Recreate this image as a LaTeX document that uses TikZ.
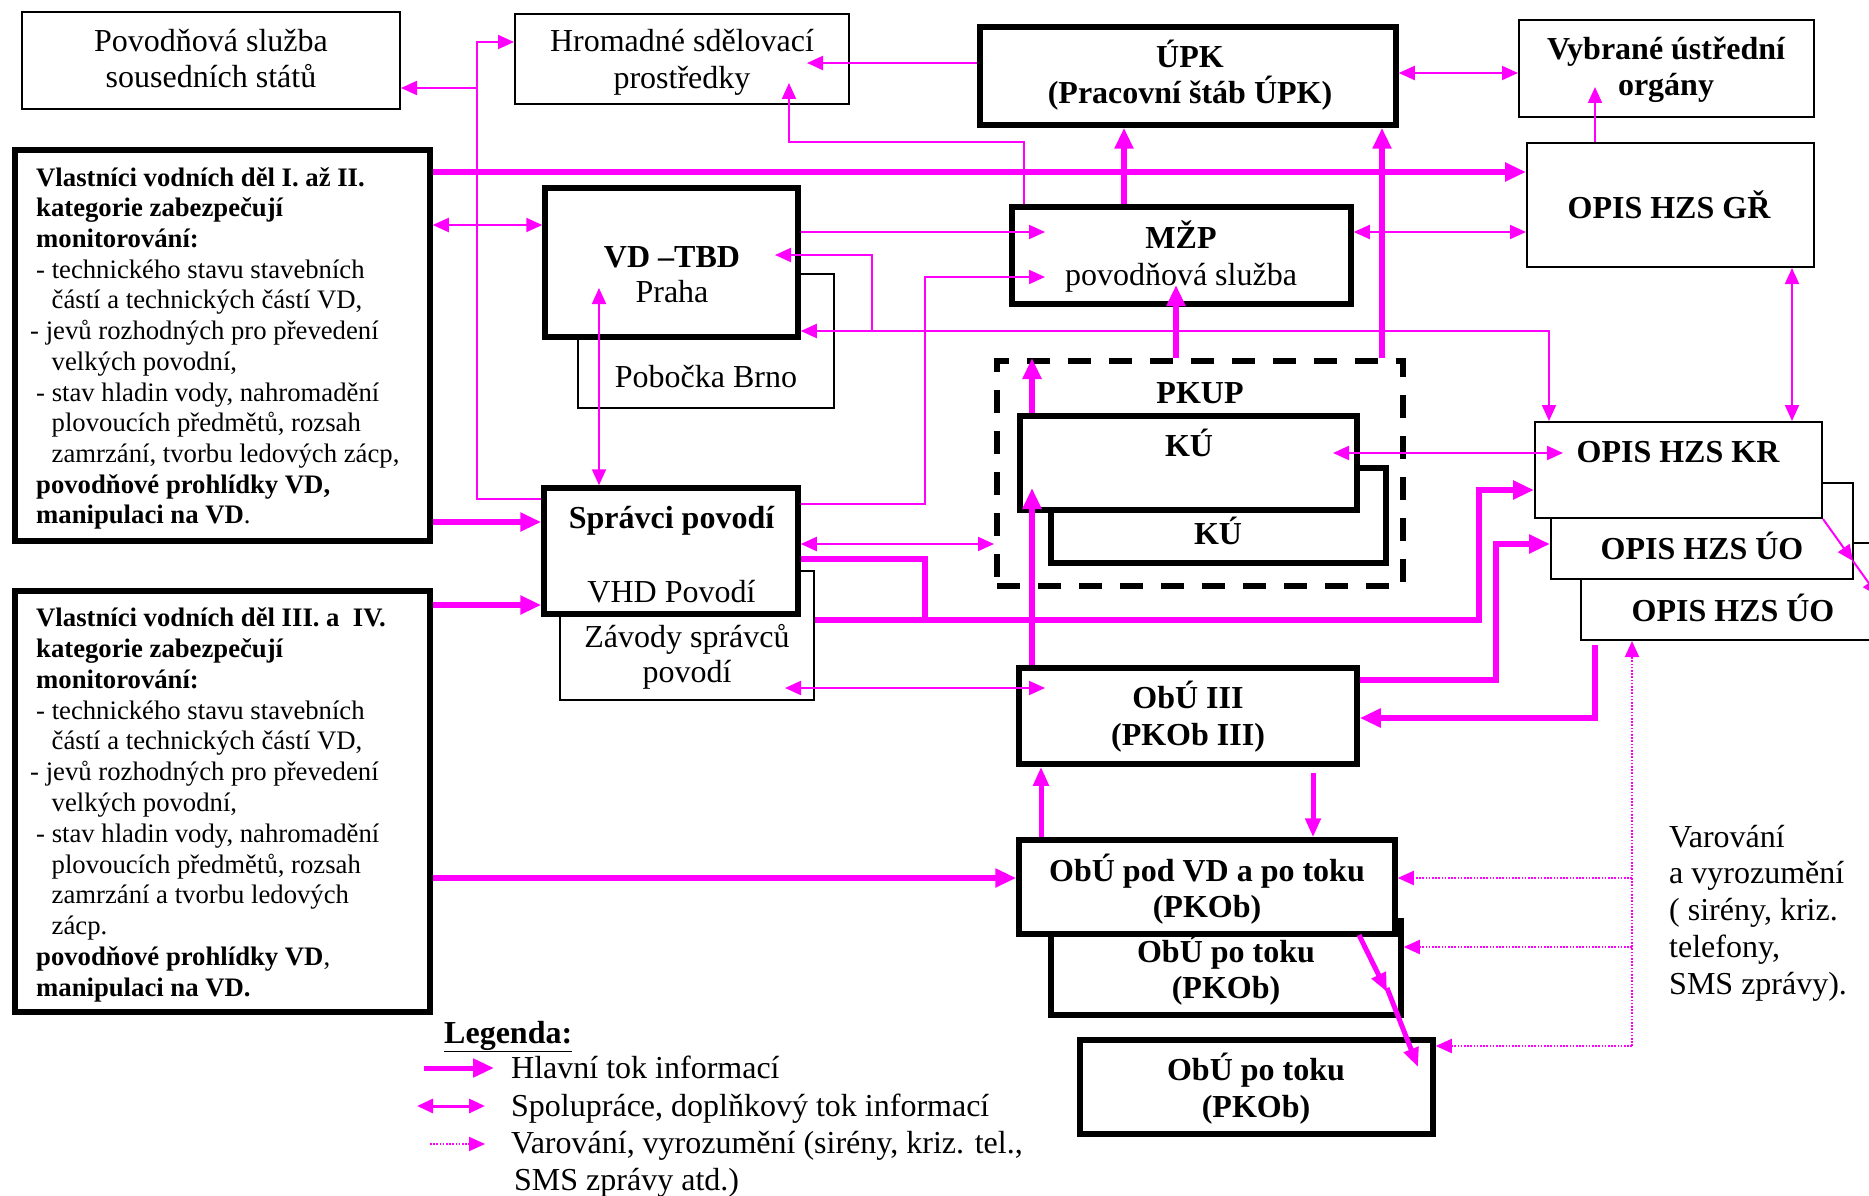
\documentclass[tikz,border=0pt]{standalone}
\usepackage{fontspec}
\setmainfont{Liberation Serif}
\usetikzlibrary{arrows.meta,calc}
\definecolor{mag}{RGB}{255,0,255}
\begin{document}
\begin{tikzpicture}[x=1pt,y=-1pt,
  tbox/.style={draw=black, line width=2pt, fill=white, inner sep=0pt},
  kbox/.style={draw=black, line width=5.5pt, fill=white, inner sep=0pt},
  dbox/.style={draw=black, line width=6pt, dash pattern=on 23pt off 18pt, inner sep=0pt},
  tx/.style={inner sep=0pt, anchor=base, font=\fontsize{32}{37}\selectfont},
  bx/.style={inner sep=0pt, anchor=base, font=\fontsize{32}{37}\selectfont\bfseries},
  lt/.style={inner sep=0pt, anchor=base west, font=\fontsize{32}{37}\selectfont},
  vlt/.style={inner sep=0pt, anchor=north west, align=left},
  thinln/.style={draw=mag, line width=2pt},
  thickln/.style={draw=mag, line width=6pt},
  medln/.style={draw=mag, line width=5pt},
  dotln/.style={draw=mag, line width=2pt, dash pattern=on 1.6pt off 1.6pt},
  arT/.style={-{Triangle[length=16pt,width=14pt]}},
  dbT/.style={{Triangle[length=16pt,width=14pt]}-{Triangle[length=16pt,width=14pt]}},
  arK/.style={-{Triangle[length=21pt,width=18pt]}},
  arM/.style={-{Triangle[length=19pt,width=15pt]}}
]
\useasboundingbox (0,0) rectangle (1869,1196);
\fill[white] (0,0) rectangle (1869,1196);
\clip (0,0) rectangle (1869,1196);

% ---------- boxes ----------
\node[tbox, minimum width=378pt, minimum height=97pt] (pov) at (211,60.5) {};
\node[tx] (t-pov1) at (211,52) {Povodňová služba};
\node[tx] (t-pov2) at (211,88) {sousedních států};

\node[tbox, minimum width=334pt, minimum height=90pt] (hrom) at (682,59) {};
\node[tx] (t-hrom1) at (682,52) {Hromadné sdělovací};
\node[tx] (t-hrom2) at (682,89) {prostředky};

\node[kbox, minimum width=416pt, minimum height=98pt] (upk) at (1188,76) {};
\node[bx] (t-upk1) at (1190,68) {ÚPK};
\node[bx] (t-upk2) at (1190,104) {(Pracovní štáb ÚPK)};

\node[tbox, minimum width=295pt, minimum height=97pt] (vyb) at (1666.5,68.5) {};
\node[bx] (t-vyb1) at (1666,60) {Vybrané ústřední};
\node[bx] (t-vyb2) at (1666,96) {orgány};

\node[tbox, minimum width=287pt, minimum height=124pt] (gr) at (1670.5,205) {};
\node[bx] (t-gr) at (1669,218) {OPIS HZS GŘ};

\node[kbox, minimum width=415pt, minimum height=391pt] (vlI) at (222.5,345.5) {};
\node[vlt, font=\fontsize{26.7}{30.7}\selectfont] (t-vlI) at (36,164.5) {\strut\textbf{Vlastníci vodních děl I. až II.}\\
\textbf{kategorie zabezpečují}\\
\textbf{monitorování:}\\
- technického stavu stavebních\\
\hspace*{15.5pt}částí a technických částí VD,\\
\hspace*{-6pt}- jevů rozhodných pro převedení\\
\hspace*{15.5pt}velkých povodní,\\
- stav hladin vody, nahromadění\\
\hspace*{15.5pt}plovoucích předmětů, rozsah\\
\hspace*{15.5pt}zamrzání, tvorbu ledových zácp,\\
\textbf{povodňové prohlídky VD,}\\
\textbf{manipulaci na VD}.};

\node[tbox, minimum width=256pt, minimum height=134pt] (brno) at (706,341) {};
\node[tx] (t-brno) at (706,387) {Pobočka Brno};
\node[kbox, minimum width=253pt, minimum height=149pt] (vdtbd) at (671.5,262.5) {};
\node[bx] (t-vd1) at (672,267) {VD –TBD};
\node[tx] (t-vd2) at (672,302) {Praha};

\node[kbox, minimum width=339pt, minimum height=97pt] (mzp) at (1181.5,255.5) {};
\node[bx] (t-mzp1) at (1181,248) {MŽP};
\node[tx] (t-mzp2) at (1181,285) {povodňová služba};

\node[dbox, minimum width=406pt, minimum height=225pt] (pkup) at (1200,473.5) {};
\node[bx] (t-pkup) at (1200,403) {PKUP};
\node[kbox, minimum width=335pt, minimum height=95pt] (ku2) at (1218.5,515.5) {};
\node[bx] (t-ku2) at (1218,544) {KÚ};
\node[kbox, minimum width=337pt, minimum height=94pt] (ku1) at (1188.5,463) {};
\node[bx] (t-ku1) at (1189,456) {KÚ};

\node[tbox, minimum width=308pt, minimum height=97pt] (uo2) at (1735,591.5) {};
\node[bx] (t-uo2) at (1733,621) {OPIS HZS ÚO};
\node[tbox, minimum width=302pt, minimum height=96pt] (uo1) at (1702,531) {};
\node[bx] (t-uo1) at (1702,559) {OPIS HZS ÚO};
\node[tbox, minimum width=287pt, minimum height=96pt] (kr) at (1678.5,470) {};
\node[bx] (t-kr) at (1678,462) {OPIS HZS KR};

\node[tbox, minimum width=254pt, minimum height=129pt] (zav) at (687,635.5) {};
\node[tx] (t-zav1) at (687,647) {Závody správců};
\node[tx] (t-zav2) at (687,682) {povodí};
\node[kbox, minimum width=254pt, minimum height=126pt] (spr) at (671,551) {};
\node[bx] (t-spr1) at (671.5,528) {Správci povodí};
\node[tx] (t-spr2) at (671.5,602) {VHD Povodí};

\node[kbox, minimum width=415pt, minimum height=421pt] (vlIII) at (222.5,801.5) {};
\node[vlt, font=\fontsize{26.7}{30.8}\selectfont] (t-vlIII) at (36,604.9) {\strut\textbf{Vlastníci vodních děl III. a \ IV.}\\
\textbf{kategorie zabezpečují}\\
\textbf{monitorování:}\\
- technického stavu stavebních\\
\hspace*{15.5pt}částí a technických částí VD,\\
\hspace*{-6pt}- jevů rozhodných pro převedení\\
\hspace*{15.5pt}velkých povodní,\\
- stav hladin vody, nahromadění\\
\hspace*{15.5pt}plovoucích předmětů, rozsah\\
\hspace*{15.5pt}zamrzání a tvorbu ledových\\
\hspace*{15.5pt}zácp.\\
\textbf{povodňové prohlídky VD},\\
\textbf{manipulaci na VD.}};

\node[kbox, minimum width=338pt, minimum height=96pt] (obu3) at (1188,716) {};
\node[bx] (t-ob31) at (1188,708) {ObÚ III};
\node[bx] (t-ob32) at (1188,745) {(PKOb III)};

\node[kbox, minimum width=350pt, minimum height=94pt] (obupo1) at (1226,968) {};
\node[bx] (t-obt1) at (1226,962) {ObÚ po toku};
\node[bx] (t-obt2) at (1226,998) {(PKOb)};
\node[kbox, minimum width=376pt, minimum height=94pt] (obupod) at (1207,887) {};
\node[bx] (t-obp1) at (1207,881) {ObÚ pod VD a po toku};
\node[bx] (t-obp2) at (1207,917) {(PKOb)};

\node[kbox, minimum width=353pt, minimum height=94pt] (obupo2) at (1256.5,1087) {};
\node[bx] (t-obu1) at (1256,1080) {ObÚ po toku};
\node[bx] (t-obu2) at (1256,1117) {(PKOb)};

% warning text
\node[lt] (w1) at (1669,847) {Varování};
\node[lt] (w2) at (1669,883) {a vyrozumění};
\node[lt] (w3) at (1669,920) {( sirény, kriz.};
\node[lt] (w4) at (1669,957) {telefony,};
\node[lt] (w5) at (1669,994) {SMS zprávy).};

% ---------- connectors ----------
\draw[thinln, arT] (spr.west |- 0,499) -- (477,499) -- (477,42) -- (hrom.west |- 0,42);
\draw[thinln, arT] (477,88) -- (pov.east |- 0,88);
\draw[thinln, arT] (upk.west |- 0,63) -- ($(hrom.east |- 0,63)+(-43,0)$);
\draw[thinln, arT] (mzp.north -| 1024,0) -- (1024,142) -- (789,142) -- ($(hrom.south -| 789,0)+(0,-22)$);
\draw[thickln, arK] (vlI.east |- 0,172) -- (gr.west |- 0,172);
\draw[thinln, dbT] (upk.east |- 0,73) -- (vyb.west |- 0,73);
\draw[thinln, arT] (gr.north -| 1595,0) -- (1595,87);
\draw[thinln, dbT] (vlI.east |- 0,225) -- (vdtbd.west |- 0,225);
\draw[thinln, arT] (vdtbd.east |- 0,232) -- (1045,232);
\draw[thinln, dbT] (mzp.east |- 0,232) -- (gr.west |- 0,232);
\draw[thickln, arK] (mzp.north -| 1124,0) -- (upk.south -| 1124,0);
\draw[thickln, arK] (pkup.north -| 1382,0) -- (upk.south -| 1382,0);
\draw[thickln, arK] (pkup.north -| 1176,0) -- (1176,285);
\draw[thinln, dbT] (gr.south -| 1792,0) -- (kr.north -| 1792,0);
\draw[thinln, dbT] (vdtbd.east |- 0,331) -- (1549,331) -- (kr.north -| 1549,0);
\draw[thinln, arT] (872,331) -- (872,255) -- (775,255);
\draw[thinln, arT] (spr.east |- 0,504) -- (925,504) -- (925,277) -- (1045,277);
\draw[thinln, dbT] (599,288) -- (spr.north -| 599,0);
\draw[thickln, arK] (vlI.east |- 0,522) -- (spr.west |- 0,522);
\draw[thickln, arK] (vlIII.east |- 0,605) -- (spr.west |- 0,605);
\draw[thinln, dbT] (spr.east |- 0,544) -- (pkup.west |- 0,544);
\draw[thickln] (spr.east |- 0,559) -- (925,559) -- (925,620);
\draw[thickln, arK] (zav.east |- 0,620) -- (1479,620) -- (1479,490) -- (kr.west |- 0,490);
\draw[thinln, dbT] (785,688) -- (1045,688);
\draw[thickln, arK] (ku1.north -| 1032,0) -- (pkup.north -| 1032,0);
\draw[thickln, arK] (obu3.north -| 1032,0) -- (1032,488);
\draw[thinln, dbT] (1333,453) -- (1563,453);
\draw[thickln, arK] (obu3.east |- 0,680) -- (1496,680) -- (1496,544) -- (uo1.west |- 0,544);
\draw[thickln, arK] (1595,645) -- (1595,718) -- (obu3.east |- 0,718);
\draw[dotln, arT] (1632,1046) -- (uo2.south -| 1632,0);
\draw[dotln, arT] (1632,878) -- (obupod.east |- 0,878);
\draw[dotln, arT] (1632,947) -- (obupo1.east |- 0,947);
\draw[dotln, arT] (1632,1046) -- (obupo2.east |- 0,1046);
\coordinate (kd) at (1853,561);
\coordinate (kd2) at (1878,596);
\draw[thinln, arT] (kr.south east) -- (kd);
\draw[thinln, arT] (kd) -- (kd2);
\draw[thickln, arK] (vlIII.east |- 0,878) -- (obupod.west |- 0,878);
\draw[medln, arM] (obupod.north -| 1041,0) -- (obu3.south -| 1041,0);
\draw[medln, arM] (1313,773) -- (obupod.north -| 1313,0);
\coordinate (dg) at (1387,992);
\draw[medln, arM] (1359,935) -- (dg);
\draw[medln, arM] (1387,988) -- (1418,1067);

% ---------- legend ----------
\node[inner sep=0pt, anchor=base west, font=\fontsize{32}{37}\selectfont\bfseries] (leg) at (444,1043) {\underline{Legenda:}};
\coordinate (la1) at (424,1068); \coordinate (lb1) at (494,1068);
\coordinate (la2) at (417,1106); \coordinate (lb2) at (485,1106);
\coordinate (la3) at (430,1144); \coordinate (lb3) at (485,1144);
\draw[medln, arK] (la1) -- (lb1);
\draw[draw=mag, line width=3pt, dbT] (la2) -- (lb2);
\draw[dotln, arT] (la3) -- (lb3);
\node[lt] (leg1) at (511,1078) {Hlavní tok informací};
\node[lt] (leg2) at (511,1116) {Spolupráce, doplňkový tok informací};
\node[lt] (leg3) at (511,1153) {Varování, vyrozumění (sirény, kriz. tel.,};
\node[lt] (leg4) at (514,1190) {SMS zprávy atd.)};
\end{tikzpicture}
\end{document}
